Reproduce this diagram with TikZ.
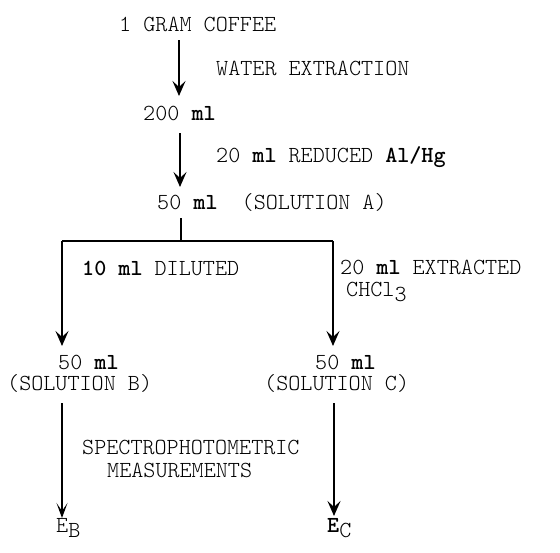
\documentclass[tikz,border=0pt]{standalone}
\usepackage{fontspec}
\setmainfont{Latin Modern Mono Light}
\usetikzlibrary{arrows.meta}
\tikzset{
  txt/.style={inner sep=0pt, anchor=west, font=\fontsize{23}{26}\selectfont},
  flow/.style={line width=1.8pt, -{Stealth[length=15pt,width=13pt,inset=6pt]}},
  thinflow/.style={line width=1.1pt, -{Stealth[length=15pt,width=11pt,inset=8pt]}},
  plain/.style={line width=1.8pt}
}
\newcommand{\sbx}[1]{\raisebox{-0.45ex}{#1}}
\begin{document}
\begin{tikzpicture}[x=1pt,y=-1pt]
\useasboundingbox (0,0) rectangle (560,552);
% nodes
\node[txt] (coffee) at (119,24) {1 GRAM COFFEE};
\node[txt] (water) at (216,68) {WATER EXTRACTION};
\node[txt] (m200) at (143,113) {200 \textbf{ml}};
\node[txt] (red) at (216,157) {20 \textbf{ml} REDUCED \textbf{Al/Hg}};
\node[txt] (solA) at (157,202) {50 \textbf{ml}\ \ (SOLUTION A)};
\node[txt] (dil) at (82,268) {\textbf{10 ml} DILUTED};
\node[txt] (ext) at (340,267) {20 \textbf{ml} EXTRACTED};
\node[txt] (chcl) at (346,292) {CHCl\sbx{3}};
\node[txt] (b50) at (58,362) {50 \textbf{ml}};
\node[txt] (solB) at (7,383) {(SOLUTION B)};
\node[txt] (c50) at (315,362) {50 \textbf{ml}};
\node[txt] (solC) at (264,383) {(SOLUTION C)};
\node[txt] (spec) at (82,447) {SPECTROPHOTOMETRIC};
\node[txt] (meas) at (107,470) {MEASUREMENTS};
\node[txt] (eb) at (56,528) {E\sbx{B}};
\node[txt] (ec) at (327,528) {\textbf{E}\sbx{C}};
% junction coordinates
\coordinate (a1) at (179,40);
\coordinate (a1e) at (179,96);
\coordinate (a2) at (180,133);
\coordinate (a2e) at (180,187);
\coordinate (j0) at (181,218);
\coordinate (j1) at (181,241);
\coordinate (jl) at (62,241);
\coordinate (jr) at (333,241);
\coordinate (bl) at (62,346);
\coordinate (br) at (333,346);
\coordinate (l3) at (62,403);
\coordinate (l3e) at (62,518);
\coordinate (r3) at (334,403);
\coordinate (r3e) at (334,516);
% connectors
\draw[flow] (a1) -- (a1e);
\draw[flow] (a2) -- (a2e);
\draw[plain] (j0) -- (j1);
\draw[plain] (jl) -- (jr);
\draw[flow] (jl) -- (bl);
\draw[flow] (jr) -- (br);
\draw[thinflow] (l3) -- (l3e);
\draw[flow, line width=2.2pt] (r3) -- (r3e);
\end{tikzpicture}
\end{document}
